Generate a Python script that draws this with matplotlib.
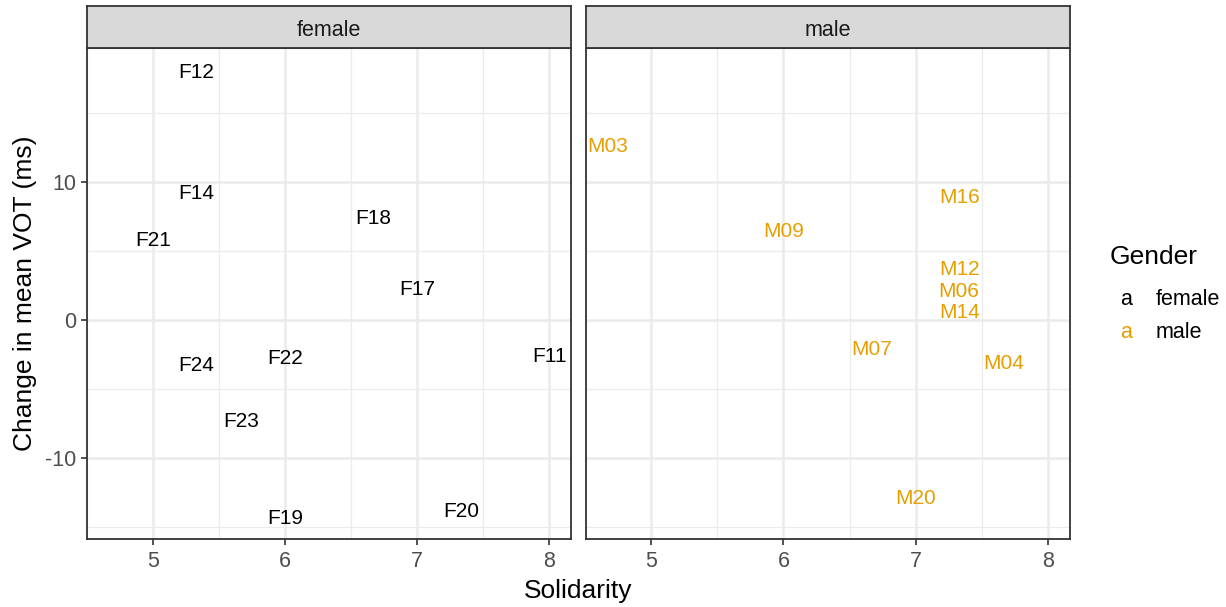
import matplotlib
matplotlib.use("Agg")
import matplotlib.pyplot as plt

plt.rcParams["font.family"] = ["Liberation Sans", "DejaVu Sans"]

# Speaker data: solidarity score and change in mean VOT (ms)
female_ids = ["F12", "F14", "F21", "F18", "F17", "F11", "F22", "F24", "F23", "F19", "F20"]
female_solidarity = [5.33, 5.33, 5.0, 6.67, 7.0, 8.0, 6.0, 5.33, 5.67, 6.0, 7.33]
female_vot_change = [18.1, 9.3, 5.9, 7.5, 2.4, -2.5, -2.6, -3.1, -7.2, -14.2, -13.7]

male_ids = ["M03", "M16", "M09", "M12", "M06", "M14", "M07", "M04", "M20"]
male_solidarity = [4.67, 7.33, 6.0, 7.33, 7.33, 7.33, 6.67, 7.67, 7.0]
male_vot_change = [12.7, 9.0, 6.6, 3.8, 2.2, 0.7, -2.0, -3.0, -12.75]

panels = [("female", female_ids, female_solidarity, female_vot_change, "#000000"),
          ("male", male_ids, male_solidarity, male_vot_change, "#E69F00")]

x_major = [5, 6, 7, 8]
x_minor = [4.5, 5.5, 6.5, 7.5]
y_major = [-10, 0, 10]
y_minor = [-15, -5, 5, 15]

W, H = 1226, 607
fig = plt.figure(figsize=(W / 100, H / 100), dpi=100)

panel_left_px = [87.3, 585.7]
panel_w_px = 484.0
panel_top_px, panel_bot_px = 48.0, 538.7
strip_top_px = 6.0

all_x = female_solidarity + male_solidarity
all_y = female_vot_change + male_vot_change
xr = max(all_x) - min(all_x)
yr = max(all_y) - min(all_y)
xlim = (min(all_x) - 0.05 * xr, max(all_x) + 0.05 * xr)
ylim = (min(all_y) - 0.05 * yr, max(all_y) + 0.05 * yr)

border = "#333333"
grid_col = "#EBEBEB"

for i, (name, ids, xs, ys, col) in enumerate(panels):
    l = panel_left_px[i] / W
    b = 1 - panel_bot_px / H
    w = panel_w_px / W
    h = (panel_bot_px - panel_top_px) / H
    ax = fig.add_axes([l, b, w, h])
    ax.set_xlim(xlim)
    ax.set_ylim(ylim)
    for v in x_minor:
        ax.axvline(v, color=grid_col, lw=0.9, zorder=0)
    for v in y_minor:
        ax.axhline(v, color=grid_col, lw=0.9, zorder=0)
    for v in x_major:
        ax.axvline(v, color=grid_col, lw=1.8, zorder=0)
    for v in y_major:
        ax.axhline(v, color=grid_col, lw=1.8, zorder=0)
    for sx, sy, lab in zip(xs, ys, ids):
        ax.text(sx, sy, lab, color=col, fontsize=15, ha="center", va="center_baseline",
                zorder=3)
    ax.set_xticks(x_major)
    ax.set_xticklabels([str(v) for v in x_major])
    ax.set_yticks(y_major)
    if i == 0:
        ax.set_yticklabels([str(v) for v in y_major])
        ax.tick_params(axis="y", colors=border, labelcolor="#4D4D4D", labelsize=15.5,
                       length=4, width=1.2, pad=4)
    else:
        ax.tick_params(axis="y", length=0, labelleft=False)
    ax.tick_params(axis="x", colors=border, labelcolor="#4D4D4D", labelsize=15.5,
                   length=4, width=1.2, pad=5)
    for s in ax.spines.values():
        s.set_color(border)
        s.set_linewidth(1.3)

    # facet strip
    sax = fig.add_axes([l, 1 - panel_top_px / H, w, (panel_top_px - strip_top_px) / H])
    sax.set_facecolor("#D9D9D9")
    sax.set_xticks([])
    sax.set_yticks([])
    for s in sax.spines.values():
        s.set_color(border)
        s.set_linewidth(1.3)
    sax.text(0.5, 0.48, name, transform=sax.transAxes, ha="center", va="center_baseline",
             fontsize=15.5, color="#1A1A1A")

fig.text((87.3 + 1069.3) / 2 / W, 1 - 591 / H, "Solidarity", ha="center", va="center",
         fontsize=19)
fig.text(25 / W, 1 - 293 / H, "Change in mean VOT (ms)", ha="center", va="center",
         rotation=90, fontsize=19)

# legend
fig.text(1110 / W, 1 - 255 / H, "Gender", ha="left", va="center_baseline", fontsize=19)
for j, (name, _, _, _, col) in enumerate(panels):
    yy = 1 - (297 + 33 * j) / H
    fig.text(1126 / W, yy, "a", color=col, ha="center", va="center_baseline", fontsize=15.5)
    fig.text(1156 / W, yy, name, ha="left", va="center_baseline", fontsize=15.5)

fig.savefig("out.png", dpi=100)
